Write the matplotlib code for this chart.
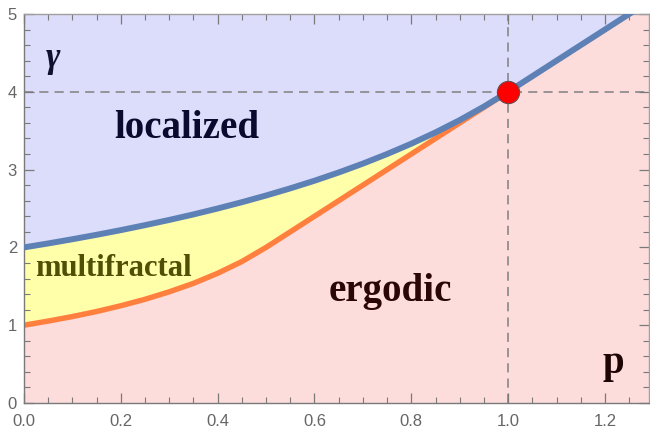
import matplotlib
matplotlib.use("Agg")
import matplotlib.pyplot as plt
from matplotlib.ticker import MultipleLocator

# boundary values
p = [0.00, 0.05, 0.10, 0.15, 0.20, 0.25, 0.30, 0.35, 0.40, 0.45, 0.50,
     0.55, 0.60, 0.65, 0.70, 0.75, 0.80, 0.85, 0.90, 0.95, 1.00]
gamma_localized = [2.000, 2.051, 2.105, 2.162, 2.222, 2.286, 2.353, 2.424, 2.500, 2.581, 2.667,
                   2.759, 2.857, 2.963, 3.077, 3.200, 3.333, 3.478, 3.636, 3.810, 4.000]
gamma_ergodic = [1.000, 1.053, 1.111, 1.176, 1.250, 1.333, 1.429, 1.538, 1.667, 1.818, 2.000,
                 2.200, 2.400, 2.600, 2.800, 3.000, 3.200, 3.400, 3.600, 3.800, 4.000]
p_high = [1.00, 1.10, 1.20, 1.30]
gamma_high = [4.00, 4.40, 4.80, 5.20]

critical_point = (1.0, 4.0)
xticks = [0.0, 0.2, 0.4, 0.6, 0.8, 1.0, 1.2]
xtick_labels = ["0.0", "0.2", "0.4", "0.6", "0.8", "1.0", "1.2"]
yticks = [0, 1, 2, 3, 4, 5]
ytick_labels = ["0", "1", "2", "3", "4", "5"]

C_LOC = "#dcdcfb"
C_MF = "#ffffaa"
C_ERG = "#fddcdc"
C_BLUE = "#5e81b5"
C_ORANGE = "#ff7f3f"

fig = plt.figure(figsize=(6.5, 4.3), dpi=100)
ax = fig.add_axes([24/650, 27/430, 625/650, 389/430])
ax.set_xlim(0, 1.291)
ax.set_ylim(0, 5)

upper_p = p + p_high[1:]
upper_g = gamma_localized + gamma_high[1:]
lower_g = gamma_ergodic + gamma_high[1:]

ax.fill_between(upper_p, upper_g, 6, color=C_LOC, lw=0, zorder=0)
ax.fill_between(upper_p, -1, lower_g, color=C_ERG, lw=0, zorder=0)
ax.fill_between(p, gamma_ergodic, gamma_localized, color=C_MF, lw=0, zorder=0)

dash_kw = dict(color="#808080", lw=1.1, dashes=(6, 4), zorder=1)
ax.axvline(critical_point[0], **dash_kw)
ax.axhline(critical_point[1], **dash_kw)

ax.plot(p, gamma_ergodic, color=C_ORANGE, lw=3.9, solid_capstyle="butt", zorder=2)
ax.plot(upper_p, upper_g, color=C_BLUE, lw=4.3, solid_capstyle="butt", zorder=3)
ax.plot([critical_point[0]], [critical_point[1]], "o", ms=16, mfc="#ff0000",
        mec="#6a4a4a", mew=0.8, zorder=4)

serif = ["Liberation Serif", "DejaVu Serif"]
ax.text(0.06, 4.43, "γ", fontsize=25, fontweight="bold", style="italic",
        family=serif, color="#101030", ha="center", va="center", zorder=5)
ax.text(0.336, 3.41, "localized", fontsize=28, fontweight="bold", family=serif,
        color="#0a0a2e", ha="center", va="baseline", zorder=5)
ax.text(0.184, 1.63, "multifractal", fontsize=22, fontweight="bold", family=serif,
        color="#4f4f06", ha="center", va="baseline", zorder=5)
ax.text(0.756, 1.31, "ergodic", fontsize=28, fontweight="bold", family=serif,
        color="#2a0606", ha="center", va="baseline", zorder=5)
ax.text(1.217, 0.386, "p", fontsize=28, fontweight="bold", family=serif,
        color="#1e0505", ha="center", va="baseline", zorder=5)

ax.set_xticks(xticks)
ax.set_xticklabels(xtick_labels)
ax.set_yticks(yticks)
ax.set_yticklabels(ytick_labels)
ax.xaxis.set_minor_locator(MultipleLocator(0.05))
ax.yaxis.set_minor_locator(MultipleLocator(0.2))
ax.tick_params(which="both", direction="in", top=True, right=True,
               color="#7a7a7a", labelcolor="#666666", labelsize=12)
ax.tick_params(which="major", length=7, width=0.9)
ax.tick_params(which="minor", length=4, width=0.8)
ax.tick_params(axis="x", which="major", pad=8)
ax.tick_params(axis="y", which="major", pad=5)
for lab in ax.get_xticklabels() + ax.get_yticklabels():
    lab.set_family(["Liberation Sans", "DejaVu Sans"])
for side in ["left", "bottom"]:
    ax.spines[side].set_color("#7a7a7a")
    ax.spines[side].set_linewidth(1.0)
for side in ["top", "right"]:
    ax.spines[side].set_color("#a0a0a0")
    ax.spines[side].set_linewidth(1.0)

fig.savefig("out.png", dpi=100)
